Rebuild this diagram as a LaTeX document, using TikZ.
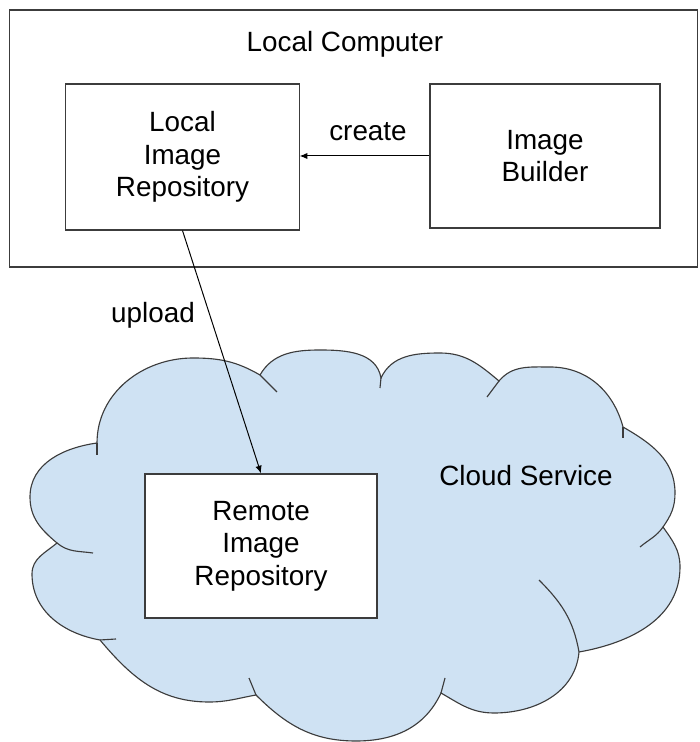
\documentclass[tikz,border=0pt]{standalone}
\usepackage{fontspec}
\setmainfont{Liberation Sans}
\usepackage{xcolor}
\usetikzlibrary{arrows.meta}
\definecolor{cloudblue}{HTML}{CFE2F3}
\definecolor{edgegray}{HTML}{3C3C3C}

\begin{document}
\begin{tikzpicture}[x=0.025cm, y=0.025cm,
  font=\fontsize{19.8}{23}\selectfont,
  box/.style={draw=edgegray, line width=0.8pt, fill=white, align=center, inner sep=0pt},
  puff/.style={draw=edgegray, line width=0.8pt},
  link/.style={line width=0.7pt, -{Latex[length=5.5pt,width=4.5pt]}}]
  \useasboundingbox (0,0) rectangle (699,742);
  % Cloud
  \draw[puff, fill=cloudblue]
    (97,299) to[out=90, in=180] (193,384) to[out=0, in=150] (260,367)
    to[out=60, in=180] (320,392) to[out=0, in=100] (381,364)
    to[out=65, in=180] (440,389) to[out=0, in=140] (499,361)
    to[out=50, in=180] (550,375) to[out=0, in=105] (623,315)
    to[out=-30, in=90] (675,249) to[out=-90, in=55] (663,215)
    to[out=-55, in=90] (680,175) to[out=-90, in=10] (579,90)
    to[out=-95, in=0] (494,29) to[out=180, in=-30] (441,49)
    to[out=-115, in=0] (356,1) to[out=180, in=-45] (256,47)
    to[out=-170, in=0] (209,40) to[out=180, in=-50] (100,102)
    to[out=170, in=-90] (32,168) to[out=90, in=-140] (57,199)
    to[out=140, in=-90] (30,245) to[out=90, in=188] cycle;
  % Cloud notches
  \draw[puff] (97,299) -- (97,287);
  \draw[puff] (260,367) -- (277,350);
  \draw[puff] (381,364) -- (380,354);
  \draw[puff] (499,361) -- (487,345);
  \draw[puff] (623,315) -- (623,304);
  \draw[puff] (663,215) to[out=-125, in=40] (640,195);
  \draw[puff] (579,90) to[out=100, in=-45] (539,162);
  \draw[puff] (441,49) -- (445,64);
  \draw[puff] (256,47) -- (249,64);
  \draw[puff] (100,102) -- (116,103);
  \draw[puff] (57,199) to[out=-40, in=172] (93,189);
  \node (cloudlbl) at (526,266) {Cloud Service};
  % Local computer
  \node[box, fill=none, minimum width=17.19cm, minimum height=6.425cm] (local) at (353.75,603.5) {};
  \node (locallbl) at (345,698) {Local Computer};
  % Boxes
  \node[box, minimum width=5.83cm, minimum height=3.65cm] (lir) at (182.5,585) {Local\\Image\\Repository};
  \node[box, minimum width=5.75cm, minimum height=3.6cm] (ib) at (545,586) {Image\\Builder};
  \node[box, minimum width=5.8cm, minimum height=3.6cm] (rir) at (261,196) {Remote\\Image\\Repository};
  % Arrows
  \draw[link] (ib.west) -- (ib.west -| lir.east);
  \node (createlbl) at (368,610) {create};
  \draw[link] (lir.south) -- (rir.north);
  \node (uploadlbl) at (153,427) {upload};
\end{tikzpicture}
\end{document}
